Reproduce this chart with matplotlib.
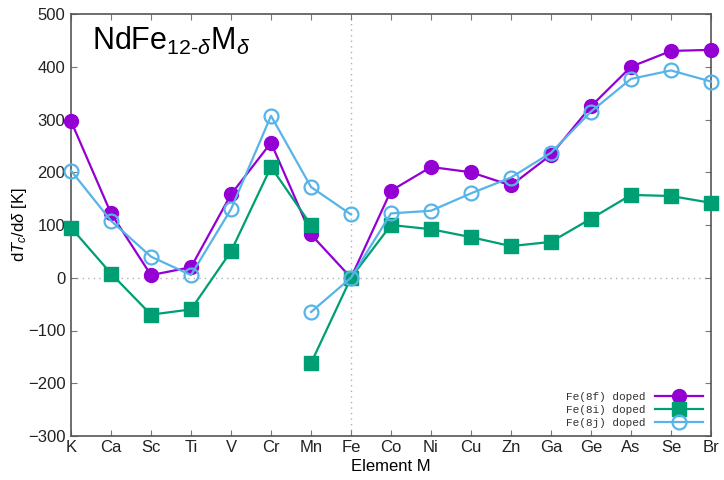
import numpy as np
import matplotlib
matplotlib.use("Agg")
import matplotlib.pyplot as plt

plt.rcParams['font.family'] = ['Liberation Sans', 'DejaVu Sans']
plt.rcParams['mathtext.fontset'] = 'custom'
plt.rcParams['mathtext.rm'] = 'Liberation Sans'
plt.rcParams['mathtext.it'] = 'Liberation Sans:italic'

elements = ["K", "Ca", "Sc", "Ti", "V", "Cr", "Mn", "Fe", "Co", "Ni", "Cu",
            "Zn", "Ga", "Ge", "As", "Se", "Br"]

# Fe(8f) doped, one continuous curve
f8_vals = [297, 122, 5, 20, 158, 256, 82, 0, 165, 210, 200, 175, 233, 325, 400, 430, 432]

# Fe(8i) doped, two branches (K..Mn, then Mn..Br)
i8_a = [95, 8, -70, -60, 50, 210, 100]
i8_b = [-162, 0, 100, 92, 77, 60, 68, 112, 157, 155, 142]

# Fe(8j) doped, two branches (K..Fe, then Mn..Br)
j8_a = [203, 108, 40, 5, 130, 307, 172, 120]
j8_b = [-65, 0, 122, 127, 160, 190, 237, 315, 377, 393, 372]

purple = "#9400D3"
green = "#009E73"
blue = "#56B4E9"

fig = plt.figure(figsize=(7.24, 4.8), dpi=100)
ax = fig.add_axes([71/724, 1 - 436/480, 640/724, 422/480])

x = np.arange(len(elements))

ax.axvline(7, color="#b0b0b0", lw=1, ls=(0, (1, 3)), zorder=0)
ax.axhline(0, color="#b0b0b0", lw=1, ls=(0, (1, 3)), zorder=0)

ax.plot(x, f8_vals, color=purple, lw=1.6, marker="o", ms=10,
        label="Fe(8f) doped", clip_on=False, zorder=3)
ax.plot(x[:7], i8_a, color=green, lw=1.6, marker="s", ms=9.5,
        label="Fe(8i) doped", clip_on=False, zorder=3)
ax.plot(x[6:], i8_b, color=green, lw=1.6, marker="s", ms=9.5, clip_on=False, zorder=3)
ax.plot(x[:8], j8_a, color=blue, lw=1.6, marker="o", ms=10, mfc="none", mew=1.6,
        label="Fe(8j) doped", clip_on=False, zorder=4)
ax.plot(x[6:], j8_b, color=blue, lw=1.6, marker="o", ms=10, mfc="none", mew=1.6,
        clip_on=False, zorder=4)

ax.set_xlim(0, 16)
ax.set_ylim(-300, 500)
ax.set_xticks(x)
ax.set_xticklabels(elements)
ax.set_yticks(np.arange(-300, 501, 100))
ax.tick_params(direction="in", length=4, width=0.8, top=True, right=True,
               labelsize=12, colors="#222222", color="#777777")
ax.tick_params(axis="y", pad=4)
ax.tick_params(axis="x", pad=3)
for s in ax.spines.values():
    s.set_color("#555555")
    s.set_linewidth(1.2)

ax.set_xlabel("Element M", fontsize=12, labelpad=3)
ax.set_ylabel(r"d$T_c$/d$\delta$ [K]", fontsize=12)
ax.yaxis.set_label_coords(-0.066, 0.5)

ax.text(0.033, 0.915, r"NdFe$_{12\text{-}\delta}$M$_\delta$", transform=ax.transAxes,
        fontsize=22, va="baseline", ha="left")

leg = ax.legend(loc="lower right", frameon=False,
                prop={"family": "Liberation Mono", "size": 8},
                markerfirst=False, handlelength=4.3, labelspacing=0.25,
                borderaxespad=0.35, handletextpad=0.8)
for t in leg.get_texts():
    t.set_color("#333333")

fig.savefig("out.png", dpi=100)
